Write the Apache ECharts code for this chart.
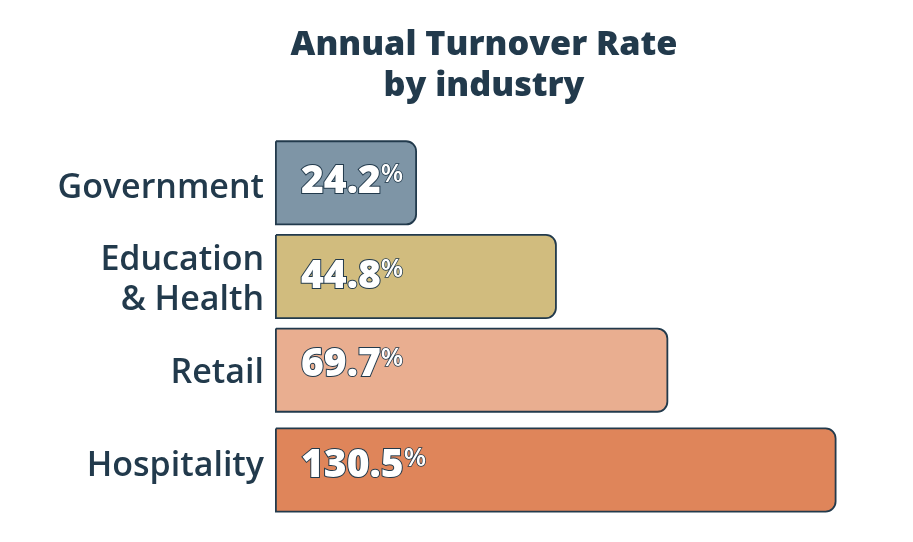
<!DOCTYPE html>
<html>
<head>
<meta charset="utf-8">
<style>
  html, body { margin: 0; padding: 0; background: #fff; }
  #chart { width: 913px; height: 542px; }
</style>
<script src="https://cdn.jsdelivr.net/npm/echarts@6/dist/echarts.min.js"></script>
</head>
<body>
<div id="chart"></div>
<script>
  const categories = ['Government', 'Education\n& Health', 'Retail', 'Hospitality'];
  // printed rates
  const rates = [24.2, 44.8, 69.7, 130.5];
  // the bars in the picture are not proportional to the printed rates,
  // so their lengths are read off separately (scale: hospitality = 130.5)
  const barLengths = [33.0, 65.5, 91.4, 130.5];
  const barColors = ['#7e95a6', '#d1bc7e', '#e9ae90', '#df855a'];
  const labelOffsets = [[26, -1], [26, 0], [26, -5], [26, -4]];

  const ink = '#223a4c';
  const font = '"Open Sans", "Noto Sans", sans-serif';

  // the last bar sits a little lower than the others, hence its own grid
  function barData(from, to) {
    return barLengths.slice(from, to).map((v, i) => ({
      value: v,
      rate: rates[from + i],
      itemStyle: { color: barColors[from + i] },
      label: { offset: labelOffsets[from + i] }
    }));
  }

  function barSeries(index, data) {
    return {
      type: 'bar',
      xAxisIndex: index,
      yAxisIndex: index,
      barWidth: 85,
      data: data,
      silent: true,
      animation: false,
      itemStyle: { borderColor: ink, borderWidth: 1.8, borderRadius: [0, 10, 10, 0] },
      label: {
        show: true,
        position: 'insideLeft',
        distance: 0,
        formatter: (p) => '{num|' + p.data.rate.toFixed(1) + '}{pct|%}',
        rich: {
          num: {
            fontFamily: font, fontWeight: 800, fontSize: 39, color: '#fff',
            textBorderColor: ink, textBorderWidth: 2
          },
          pct: {
            fontFamily: font, fontWeight: 600, fontSize: 26, color: '#fff',
            textBorderColor: ink, textBorderWidth: 1.5, verticalAlign: 'top', padding: [0, 0, 14, 0]
          }
        }
      }
    };
  }

  function xAxisFor(index) {
    return { type: 'value', gridIndex: index, min: 0, max: 130.5, show: false };
  }

  function yAxisFor(index, names) {
    return {
      type: 'category',
      gridIndex: index,
      inverse: true,
      data: names,
      axisLine: { show: false },
      axisTick: { show: false },
      axisLabel: { show: false }
    };
  }

  const chart = echarts.init(document.getElementById('chart'), null, { renderer: 'canvas' });
  chart.setOption({
    backgroundColor: '#fff',
    animation: false,
    title: {
      text: 'Annual Turnover Rate\nby industry',
      left: 479,
      top: 19.5,
      textAlign: 'center',
      textStyle: { color: ink, fontFamily: font, fontWeight: 800, fontSize: 34.2, lineHeight: 41 }
    },
    grid: [
      { left: 275, width: 561.5, top: 136, height: 281 },
      { left: 275, width: 561.5, top: 423, height: 94 },
      // category names are evenly spaced, unlike the bars
      { left: 275, width: 561.5, top: 141.7, height: 370.8 }
    ],
    xAxis: [xAxisFor(0), xAxisFor(1), xAxisFor(2)],
    yAxis: [
      yAxisFor(0, categories.slice(0, 3)),
      yAxisFor(1, categories.slice(3)),
      {
        ...yAxisFor(2, categories),
        axisLabel: {
          show: true,
          color: ink,
          fontFamily: font,
          fontWeight: 600,
          fontSize: 34,
          lineHeight: 40,
          margin: 11,
          align: 'right'
        }
      }
    ],
    series: [
      barSeries(0, barData(0, 3)),
      barSeries(1, barData(3, 4))
    ]
  });

  window.addEventListener('resize', () => chart.resize());
</script>
</body>
</html>
